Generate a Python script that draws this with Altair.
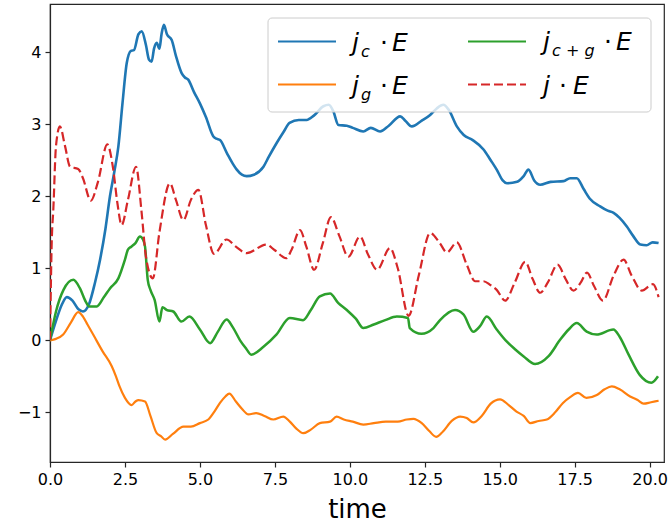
import altair as alt
import pandas as pd

# ---------------- data ----------------
time_c = [0, 0.2, 0.4, 0.56, 0.75, 0.95, 1.1, 1.3, 1.5, 1.67, 1.85, 2.0, 2.15, 2.28, 2.42, 2.56,
          2.7, 2.8, 2.95, 3.06, 3.2, 3.3, 3.39, 3.47, 3.56, 3.65, 3.72, 3.8, 3.9, 4.06, 4.2, 4.39,
          4.5, 4.61, 4.8, 5.0, 5.2, 5.45, 5.55, 5.67, 5.9, 6.1, 6.23, 6.4, 6.56, 6.8, 7.12, 7.3,
          7.56, 7.8, 7.99, 8.3, 8.56, 8.8, 9.12, 9.3, 9.45, 9.62, 9.9, 10.1, 10.45, 10.7, 11.01,
          11.3, 11.68, 11.85, 12.07, 12.4, 12.68, 12.9, 13.12, 13.3, 13.57, 13.8, 14.1, 14.46,
          14.7, 14.9, 15.1, 15.24, 15.58, 15.8, 15.96, 16.15, 16.35, 16.7, 17.13, 17.35, 17.57,
          17.8, 18.0, 18.35, 18.6, 18.8, 19.0, 19.24, 19.45, 19.69, 19.9, 20.1, 20.3]
jc_E = [0, 0.27, 0.5, 0.6, 0.55, 0.43, 0.4, 0.5, 0.8, 1.12, 1.55, 2.0, 2.35, 2.69, 3.3, 3.85,
        4.02, 4.03, 4.25, 4.29, 4.1, 3.9, 3.87, 4.05, 4.13, 4.05, 4.25, 4.38, 4.25, 4.17, 3.95, 3.71,
        3.65, 3.62, 3.45, 3.29, 3.1, 2.83, 2.8, 2.78, 2.6, 2.45, 2.37, 2.3, 2.28, 2.3, 2.41, 2.55,
        2.74, 2.9, 3.02, 3.06, 3.06, 3.12, 3.25, 3.27, 3.18, 2.99, 2.98, 2.95, 2.9, 2.95, 2.9,
        2.98, 3.11, 3.05, 2.97, 3.05, 3.13, 3.22, 3.27, 3.2, 2.97, 2.85, 2.78, 2.65,
        2.5, 2.37, 2.22, 2.18, 2.2, 2.28, 2.37, 2.22, 2.16, 2.2, 2.21, 2.25, 2.25,
        2.1, 1.97, 1.86, 1.8, 1.77, 1.7, 1.58, 1.45, 1.33, 1.32, 1.36, 1.35]

time_g = [0, 0.2, 0.44, 0.7, 0.94, 1.1, 1.25, 1.44, 1.75, 2.06, 2.2, 2.32, 2.5, 2.72, 2.85, 2.95,
          3.17, 3.35, 3.56, 3.7, 3.84, 4.1, 4.45, 4.7, 5.0, 5.28, 5.5, 5.67, 5.85, 5.98, 6.2, 6.4,
          6.62, 6.88, 7.15, 7.45, 7.78, 8.0, 8.2, 8.45, 8.7, 9.0, 9.34, 9.56, 9.8, 10.1, 10.45,
          10.8, 11.2, 11.6, 11.9, 12.12, 12.4, 12.65, 12.88, 13.1, 13.4, 13.68, 13.9, 14.12, 14.4,
          14.7, 15.01, 15.3, 15.56, 15.8, 16.02, 16.3, 16.57, 16.85, 17.11, 17.35, 17.61, 17.89,
          18.24, 18.5, 18.74, 19.0, 19.35, 19.6, 19.8, 20.05, 20.3]
jg_E = [0, 0.02, 0.08, 0.25, 0.39, 0.33, 0.22, 0.08, -0.15, -0.36, -0.5, -0.64, -0.8, -0.9, -0.85, -0.83,
        -0.85, -1.05, -1.29, -1.33, -1.38, -1.3, -1.2, -1.2, -1.15, -1.1, -0.98, -0.87, -0.78, -0.74, -0.85, -0.95,
        -1.03, -1.01, -1.05, -1.1, -1.06, -1.13, -1.22, -1.29, -1.24, -1.15, -1.13, -1.06, -1.1, -1.13, -1.17,
        -1.15, -1.13, -1.13, -1.1, -1.09, -1.15, -1.26, -1.34, -1.27, -1.12, -1.06, -1.08, -1.14, -1.05,
        -0.88, -0.82, -0.9, -0.99, -1.05, -1.15, -1.12, -1.1, -1.0, -0.87, -0.79, -0.73, -0.8,
        -0.76, -0.68, -0.64, -0.68, -0.78, -0.83, -0.88, -0.86, -0.84]

time_cg = [0, 0.2, 0.45, 0.78, 1.0, 1.2, 1.31, 1.56, 1.8, 2.0, 2.28, 2.5, 2.6, 2.71, 2.85, 3.0,
           3.1, 3.17, 3.26, 3.35, 3.49, 3.65, 3.75, 3.9, 4.11, 4.38, 4.65, 5.0, 5.34, 5.6, 5.89,
           6.1, 6.34, 6.55, 6.71, 7.12, 7.55, 8.0, 8.44, 8.7, 9.0, 9.34, 9.61, 9.9, 10.2, 10.45,
           10.8, 11.18, 11.57, 11.94, 12.0, 12.39, 12.79, 13.01, 13.51, 13.79, 14.12, 14.35,
           14.57, 14.9, 15.24, 15.5, 15.79, 16.18, 16.63, 17.02, 17.3, 17.57, 17.9, 18.23, 18.79,
           19.0, 19.3, 19.67, 20.06, 20.28]
jcg_E = [0, 0.4, 0.7, 0.84, 0.72, 0.53, 0.47, 0.47, 0.6, 0.72, 0.86, 1.12, 1.26, 1.3, 1.35, 1.44,
         1.4, 1.3, 0.84, 0.7, 0.56, 0.26, 0.46, 0.42, 0.4, 0.26, 0.33, 0.15, -0.04, 0.12, 0.29,
         0.18, 0.0, -0.12, -0.2, -0.09, 0.08, 0.31, 0.28, 0.42, 0.61, 0.65, 0.52, 0.42, 0.3, 0.17,
         0.22, 0.28, 0.33, 0.31, 0.17, 0.09, 0.17, 0.28, 0.42, 0.36, 0.12, 0.2,
         0.33, 0.15, -0.02, -0.12, -0.22, -0.33, -0.22, 0.01, 0.15, 0.24, 0.12, 0.08, 0.15,
         0.05, -0.2, -0.48, -0.59, -0.5]

time_tot = [0, 0.06, 0.11, 0.2, 0.33, 0.5, 0.67, 0.94, 1.1, 1.36, 1.6, 1.91, 2.1, 2.25, 2.39, 2.6,
            2.87, 3.05, 3.2, 3.43, 3.65, 4.0, 4.2, 4.45, 4.7, 4.95, 5.2, 5.47, 5.89, 6.2, 6.56,
            7.21, 7.5, 7.88, 8.05, 8.34, 8.55, 8.81, 9.1, 9.37, 9.65, 9.95, 10.34, 10.6, 10.91,
            11.34, 11.6, 11.96, 12.3, 12.68, 13.0, 13.24, 13.57, 13.9, 14.18, 14.46, 14.68, 14.9,
            15.18, 15.5, 15.85, 16.1, 16.35, 16.6, 16.93, 17.2, 17.46, 17.7, 17.91, 18.15, 18.44,
            18.8, 19.13, 19.4, 19.74, 20.11, 20.3]
j_E = [0, 1.4, 1.81, 2.7, 2.97, 2.7, 2.41, 2.38, 2.25, 1.94, 2.2, 2.72, 2.4, 1.9, 1.6, 1.95,
       2.41, 1.8, 1.16, 0.86, 1.5, 2.18, 1.95, 1.67, 1.95, 2.09, 1.6, 1.2, 1.4, 1.3, 1.21,
       1.33, 1.25, 1.14, 1.25, 1.53, 1.3, 0.98, 1.35, 1.71, 1.45, 1.16, 1.44, 1.2, 0.98,
       1.28, 1.0, 0.34, 0.9, 1.49, 1.35, 1.22, 1.36, 1.05, 0.82, 0.82, 0.77, 0.7,
       0.55, 0.8, 1.09, 0.85, 0.66, 0.8, 1.05, 0.85, 0.69, 0.8, 0.94, 0.75, 0.55,
       0.9, 1.12, 0.9, 0.69, 0.78, 0.6]

x_ticks = [0, 2.5, 5, 7.5, 10, 12.5, 15, 17.5, 20]
y_ticks = [-1, 0, 1, 2, 3, 4]
colors = ["#1f77b4", "#ff7f0e", "#2ca02c", "#d62728"]
subscripts = ["c", "g", "c + g", None]

FONT = "DejaVu Sans"
AX = "#262626"

x_scale = alt.Scale(domain=[0, 20.48], nice=False, zero=False)
y_scale = alt.Scale(domain=[-1.69, 4.67], nice=False, zero=False)
x_axis = alt.Axis(values=x_ticks, format=".1f", title="time", labelFontSize=16, titleFontSize=26,
                  titleFontWeight="normal", tickSize=5, labelPadding=4, titlePadding=9,
                  grid=False, domainColor=AX, tickColor=AX, labelColor="black", titleColor="black",
                  labelFlush=False, labelOverlap=False, domainWidth=1.2, tickWidth=1.2)
y_axis = alt.Axis(values=y_ticks, format="d", title=None, labelFontSize=16, tickSize=5,
                  labelPadding=4, grid=False, domainColor=AX, tickColor=AX, labelColor="black",
                  labelOverlap=False, domainWidth=1.2, tickWidth=1.2)


def series_layer(t, v, color, width, dashed=False):
    df = pd.DataFrame({"time": t, "value": v})
    kw = dict(color=color, strokeWidth=width, clip=True, interpolate="monotone")
    if dashed:
        kw.update(strokeDash=[9, 4])
    return alt.Chart(df).mark_line(**kw).encode(
        x=alt.X("time:Q", scale=x_scale, axis=x_axis),
        y=alt.Y("value:Q", scale=y_scale, axis=y_axis),
    )


layers = [
    series_layer(time_c, jc_E, colors[0], 2.6),
    series_layer(time_g, jg_E, colors[1], 2.2),
    series_layer(time_cg, jcg_E, colors[2], 2.5),
    series_layer(time_tot, j_E, colors[3], 2.2, dashed=True),
]

# ---------------- custom legend (layout in pixels of the plot area) ----------------
one = pd.DataFrame({"k": [0]})
layers.append(alt.Chart(one).mark_rect(fill="white", fillOpacity=0.8, stroke="#cccccc",
                                       strokeWidth=1, cornerRadius=4).encode(
    x=alt.value(218), x2=alt.value(601), y=alt.value(14), y2=alt.value(108)))

# (line x start, line y, text x, text baseline)
slots = [(228, 37.5, 302, 47), (228, 80.5, 302, 89.5), (418, 37.5, 493, 46), (418, 80.5, 493, 89.5)]
for i, (lx, ly, tx, ty) in enumerate(slots):
    rule_kw = dict(color=colors[i], strokeWidth=2.2)
    if i == 3:
        rule_kw["strokeDash"] = [9, 4]
    layers.append(alt.Chart(one).mark_rule(**rule_kw).encode(
        x=alt.value(lx), x2=alt.value(lx + 58), y=alt.value(ly)))
    sub = subscripts[i]
    pieces = [("j", tx, ty, 25, "italic", "left")]
    if sub is None:
        dot_x, e_x = tx + 20, tx + 30
    else:
        sub_w = 9 if len(sub) == 1 else 42
        pieces.append((sub, tx + 9, ty + 6, 16, "italic", "left"))
        dot_x, e_x = tx + 9 + sub_w + 14, tx + 9 + sub_w + 22
    pieces.append(("·", dot_x, ty, 25, "normal", "center"))
    pieces.append(("E", e_x, ty, 25, "italic", "left"))
    for txt, px, py, fs, style, al in pieces:
        layers.append(alt.Chart(one).mark_text(font=FONT, fontSize=fs, fontStyle=style, align=al,
                                               baseline="alphabetic", color="black").encode(
            x=alt.value(px), y=alt.value(py), text=alt.value(txt)))

chart = alt.layer(*layers).properties(
    width=614, height=458,
    autosize=alt.AutoSizeParams(type="none"),
    padding={"left": 50, "top": 4, "right": 7, "bottom": 63},
).configure(font=FONT).configure_view(stroke=AX, strokeWidth=1.2)

chart.save("out.html", embed_options={"renderer": "svg", "actions": False})
